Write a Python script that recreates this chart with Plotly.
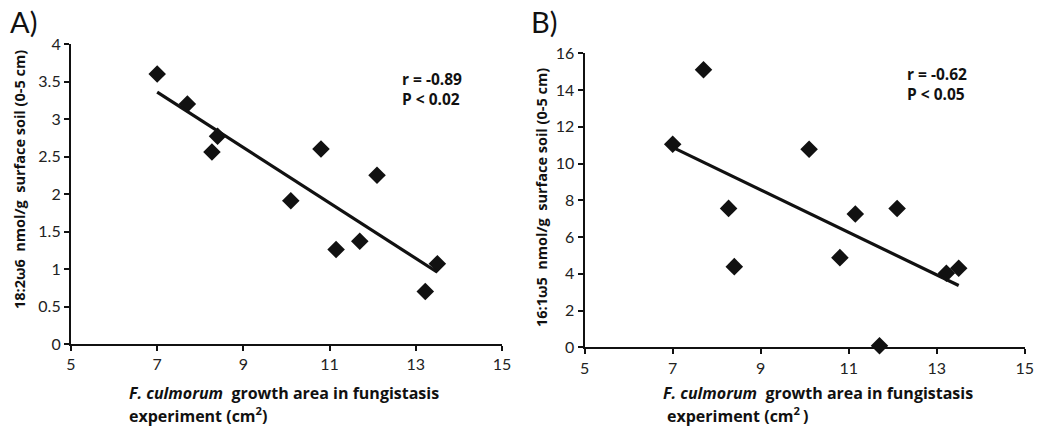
import numpy as np
import plotly.graph_objects as go

# ---- data ----
growth_area = [7.0, 7.7, 8.27, 8.4, 10.1, 10.8, 11.15, 11.7, 12.1, 13.22, 13.5]
fa_18_2w6 = [3.6, 3.2, 2.56, 2.77, 1.91, 2.6, 1.26, 1.37, 2.25, 0.7, 1.07]
fa_16_1w5 = [11.05, 15.1, 7.56, 4.39, 10.78, 4.88, 7.25, 0.08, 7.55, 4.03, 4.3]

x_ticks = [5, 7, 9, 11, 13, 15]
ya_ticks = [0, 0.5, 1, 1.5, 2, 2.5, 3, 3.5, 4]
yb_ticks = [0, 2, 4, 6, 8, 10, 12, 14, 16]

panel_labels = ["A)", "B)"]
stats_a = "r = -0.89<br>P < 0.02"
stats_b = "r = -0.62<br>P < 0.05"
xtitle_1 = "<i>F. culmorum</i>  growth area in fungistasis"
xtitle_2a = "experiment (cm<sup>2</sup>)"
xtitle_2b = "experiment (cm<sup>2 </sup>)"
ytitle_a = "18:2ω6  nmol/g  surface soil (0-5 cm)"
ytitle_b = "16:1ω5  nmol/g  surface soil (0-5 cm)"

TICKFONT = "Lato, 'Open Sans', sans-serif"
BOLDFONT = "'Open Sans', Lato, sans-serif"
W, H = 1037, 430
fig = go.Figure()


def add_panel(ys, xa, ya):
    fig.add_trace(go.Scatter(
        x=growth_area, y=ys, mode="markers", xaxis=xa, yaxis=ya,
        marker=dict(symbol="diamond", size=13.5, color="#111111"),
        cliponaxis=False, showlegend=False))
    k, b = np.polyfit(growth_area, ys, 1)
    xs = [min(growth_area), max(growth_area)]
    fig.add_trace(go.Scatter(
        x=xs, y=[k * v + b for v in xs], mode="lines", xaxis=xa, yaxis=ya,
        line=dict(color="#111111", width=3.2), showlegend=False))


add_panel(fa_18_2w6, "x", "y")
add_panel(fa_16_1w5, "x2", "y2")

axis_common = dict(showline=True, linecolor="#111111", linewidth=2.2,
                   ticks="outside", ticklen=5, tickwidth=1.5, tickcolor="#111111",
                   showgrid=False, zeroline=False, automargin=False,
                   tickfont=dict(family=TICKFONT, size=16, color="#222222"))

fig.update_layout(
    width=W, height=H,
    margin=dict(l=0, r=0, t=0, b=0),
    paper_bgcolor="white", plot_bgcolor="white",
    font=dict(family=TICKFONT, color="#111111"),
    xaxis=dict(domain=[71 / W, 502 / W], range=[5, 15], tickvals=x_ticks,
               anchor="y", **axis_common),
    yaxis=dict(domain=[1 - 344 / H, 1 - 44 / H], range=[0, 4], tickvals=ya_ticks,
               anchor="x", **axis_common),
    xaxis2=dict(domain=[584.7 / W, 1024.7 / W], range=[5, 15], tickvals=x_ticks,
                anchor="y2", **axis_common),
    yaxis2=dict(domain=[1 - 347.3 / H, 1 - 53.3 / H], range=[0, 16], tickvals=yb_ticks,
                anchor="x2", **axis_common),
)

ann = []
bold = dict(family=BOLDFONT, size=16, color="#111111", weight="bold")
statfont = dict(family=BOLDFONT, size=15.5, color="#111111", weight="bold")
for lab, px in zip(panel_labels, [8, 529]):
    ann.append(dict(text=lab, x=px / W, y=1 - 22 / H, xref="paper", yref="paper",
                    xanchor="left", yanchor="middle", showarrow=False,
                    font=dict(family=TICKFONT, size=29, color="#111111")))
# stats
ann.append(dict(text=stats_a, x=12.63, y=3.71, xref="x", yref="y", xanchor="left",
                yanchor="top", align="left", showarrow=False, font=statfont))
ann.append(dict(text=stats_b, x=12.29, y=15.6, xref="x2", yref="y2", xanchor="left",
                yanchor="top", align="left", showarrow=False, font=statfont))
# x titles
for x0, t2, x2 in [(127, xtitle_2a, 127), (661, xtitle_2b, 665)]:
    ann.append(dict(text=xtitle_1, x=x0 / W, y=1 - 393 / H, xref="paper", yref="paper",
                    xanchor="left", yanchor="middle", showarrow=False, font=bold))
    ann.append(dict(text=t2, x=x2 / W, y=1 - 415 / H, xref="paper", yref="paper",
                    xanchor="left", yanchor="middle", showarrow=False, font=bold))
# y titles
ytfont = dict(family=BOLDFONT, size=14.5, color="#111111", weight="bold")
ann.append(dict(text=ytitle_a, x=19 / W, y=1 - 180 / H, xref="paper", yref="paper",
                xanchor="center", yanchor="middle", textangle=-90, showarrow=False,
                font=ytfont))
ann.append(dict(text=ytitle_b, x=541 / W, y=1 - 198 / H, xref="paper", yref="paper",
                xanchor="center", yanchor="middle", textangle=-90, showarrow=False,
                font=ytfont))
fig.update_layout(annotations=ann)

fig.write_html("out.html", config={"displayModeBar": False},
               post_script="document.body.style.margin='0px';")
